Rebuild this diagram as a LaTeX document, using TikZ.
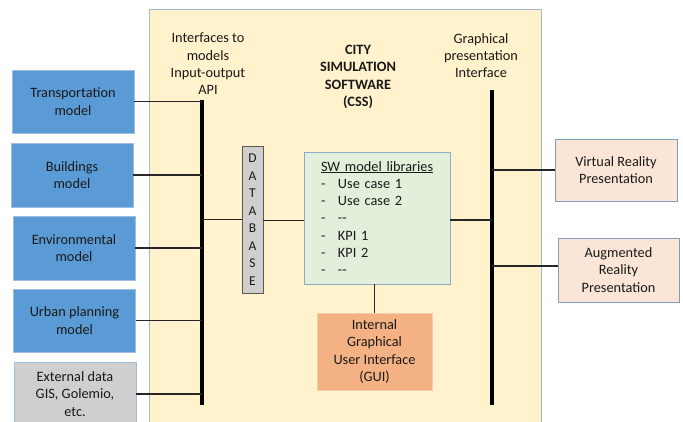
\documentclass[tikz,border=0pt]{standalone}
\usepackage{fontspec}
\setmainfont{Carlito}
\definecolor{yel}{HTML}{FFF2CC}
\definecolor{yelb}{HTML}{A5B8CC}
\definecolor{blu}{HTML}{5B9BD5}
\definecolor{blub}{HTML}{9DBDE2}
\definecolor{gry}{HTML}{D0CECE}
\definecolor{dbb}{HTML}{595959}
\definecolor{grn}{HTML}{E2EFDA}
\definecolor{grnb}{HTML}{8FAAC8}
\definecolor{pnk}{HTML}{FBE5D6}
\definecolor{pnkb}{HTML}{7F9DBF}
\definecolor{org}{HTML}{F4B183}
\definecolor{orgb}{HTML}{F8CBAD}
\tikzset{
  basefont/.style={font=\fontsize{14.3}{17.3}\selectfont},
  box/.style={draw, line width=0.8pt, align=center, inner sep=2pt, text=black!90},
  bluebox/.style={box, fill=blu, draw=blub, minimum width=122pt, minimum height=63pt},
  greybox/.style={box, fill=gry, draw=blub, minimum width=122pt, minimum height=64pt},
  pinkbox/.style={box, fill=pnk, draw=pnkb},
  bar/.style={fill=black, draw=none, minimum width=4.5pt, inner sep=0pt},
  conn/.style={draw=black!85, line width=1.3pt},
  lbl/.style={align=center, text=black!90},
}
\begin{document}
\begin{tikzpicture}[x=1pt,y=-1pt,basefont]
\clip (0,0) rectangle (683,421);
\fill[white] (0,0) rectangle (683,421);
% main container
\node[draw=yelb, fill=yel, line width=0.8pt, minimum width=392pt, minimum height=430pt, inner sep=0pt] (css) at (345,224) {};
% labels
\node[lbl] (ifl) at (208,64) {Interfaces to\\models\\Input-output\\API};
\node[lbl, font=\fontsize{14.3}{17.3}\selectfont\bfseries] (title) at (358,77) {CITY\\SIMULATION\\SOFTWARE\\(CSS)};
\node[lbl] (gpl) at (481,55.5) {Graphical\\presentation\\Interface};
% bars
\node[bar, minimum height=305pt] (lbar) at (202,252.5) {};
\node[bar, minimum height=315pt] (rbar) at (492,247.5) {};
% left boxes
\node[bluebox] (trans) at (73,101.5) {Transportation\\model};
\node[bluebox, minimum height=64pt] (build) at (72,175) {Buildings\\model};
\node[bluebox, minimum height=64pt] (env) at (74,248) {Environmental\\model};
\node[bluebox] (urban) at (74.5,320.5) {Urban planning\\model};
\node[greybox] (ext) at (75,394) {External data\\GIS, Golemio,\\etc.};
% database
\node[box, fill=gry, draw=dbb, minimum width=21pt, minimum height=147pt, inner sep=0pt, font=\fontsize{13.5}{17.5}\selectfont] (db) at (252.5,219.5) {D\\A\\T\\A\\B\\A\\S\\E};
% SW libraries
\node[box, fill=grn, draw=grnb, minimum width=146pt, minimum height=132pt, text width=112pt, align=left, inner sep=0pt] (sw) at (377,218)
{\underline{SW model libraries}\\
\makebox[17pt][l]{-}Use case 1\\
\makebox[17pt][l]{-}Use case 2\\
\makebox[17pt][l]{-}-{}-\\
\makebox[17pt][l]{-}KPI 1\\
\makebox[17pt][l]{-}KPI 2\\
\makebox[17pt][l]{-}-{}-};
% GUI
\node[box, fill=org, draw=orgb, minimum width=115pt, minimum height=77pt] (gui) at (374.5,351.5) {Internal\\Graphical\\User Interface\\(GUI)};
% right boxes
\node[pinkbox, minimum width=122pt, minimum height=62pt] (vr) at (616,170) {Virtual Reality\\Presentation};
\node[pinkbox, minimum width=121pt, minimum height=64pt] (ar) at (618.5,270) {Augmented\\Reality\\Presentation};
% connectors
\draw[conn] (trans.east) -- (trans.east -| lbar.center);
\draw[conn] (build.east) -- (build.east -| lbar.center);
\draw[conn] (env.east) -- (env.east -| lbar.center);
\draw[conn] (urban.east) -- (urban.east -| lbar.center);
\draw[conn] (ext.east) -- (ext.east -| lbar.center);
\draw[conn] (db.west) -- (db.west -| lbar.center);
\draw[conn] ([yshift=-1pt]db.east) -- ([yshift=-1pt]db.east -| sw.west);
\draw[conn] ([yshift=-2pt]sw.east) -- ([yshift=-2pt]sw.east -| rbar.center);
\draw[conn] (gui.north) -- (gui.north |- sw.south);
\draw[conn] (vr.west) -- (vr.west -| rbar.center);
\draw[conn] ([yshift=4pt]ar.west) -- ([yshift=4pt]ar.west -| rbar.center);
\end{tikzpicture}
\end{document}
